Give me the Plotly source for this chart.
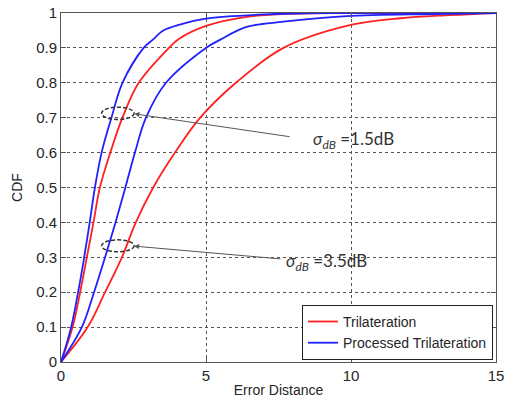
import plotly.graph_objects as go

# Trilateration, sigma = 1.5 dB
tri15_x = [0, 0.40, 0.66, 0.89, 1.12, 1.34, 1.70, 2.12, 2.68, 3.72, 4.05, 5.0, 6.4, 8.0, 10.0, 15.0]
tri15_y = [0, 0.1, 0.2, 0.3, 0.4, 0.5, 0.6, 0.7, 0.8, 0.9, 0.925, 0.963, 0.989, 0.998, 1.0, 1.0]
# Processed trilateration, sigma = 1.5 dB
pro15_x = [0, 0.35, 0.59, 0.80, 0.99, 1.17, 1.40, 1.74, 2.12, 2.85, 3.16, 3.53, 4.1, 5.0, 7.0, 9.0, 15.0]
pro15_y = [0, 0.1, 0.2, 0.3, 0.4, 0.5, 0.6, 0.7, 0.8, 0.9, 0.923, 0.95, 0.967, 0.984, 0.996, 1.0, 1.0]
# Trilateration, sigma = 3.5 dB
tri35_x = [0, 0.92, 1.52, 2.10, 2.58, 3.18, 3.93, 4.8, 6.03, 7.67, 9.85, 11.7, 13.4, 15.0]
tri35_y = [0, 0.1, 0.2, 0.3, 0.4, 0.5, 0.6, 0.7, 0.8, 0.9, 0.963, 0.985, 0.994, 1.0]
# Processed trilateration, sigma = 3.5 dB
pro35_x = [0, 0.72, 1.14, 1.52, 1.88, 2.22, 2.55, 2.93, 3.62, 5.0, 5.48, 6.4, 7.67, 9.85, 12.8, 15.0]
pro35_y = [0, 0.1, 0.2, 0.3, 0.4, 0.5, 0.6, 0.7, 0.8, 0.9, 0.923, 0.96, 0.975, 0.991, 0.997, 1.0]

x_ticks = [0, 5, 10, 15]
y_ticks = [0, 0.1, 0.2, 0.3, 0.4, 0.5, 0.6, 0.7, 0.8, 0.9, 1]
y_tick_labels = ["0", "0.1", "0.2", "0.3", "0.4", "0.5", "0.6", "0.7", "0.8", "0.9", "1"]

RED = "#ff2020"
BLUE = "#2020ff"
FONT = "Liberation Sans, Arial, sans-serif"

def line(color):
    return dict(color=color, width=1.8, shape="spline", smoothing=1.0)

fig = go.Figure()
fig.add_trace(go.Scatter(x=tri15_x, y=tri15_y, mode="lines", name="Trilateration", line=line(RED)))
fig.add_trace(go.Scatter(x=pro15_x, y=pro15_y, mode="lines", name="Processed Trilateration", line=line(BLUE)))
fig.add_trace(go.Scatter(x=tri35_x, y=tri35_y, mode="lines", name="Trilateration", showlegend=False, line=line(RED)))
fig.add_trace(go.Scatter(x=pro35_x, y=pro35_y, mode="lines", name="Processed Trilateration", showlegend=False, line=line(BLUE)))

# dashed ellipses
for (y0, y1) in [(0.695, 0.730), (0.316, 0.350)]:
    fig.add_shape(type="circle", xref="x", yref="y", x0=1.40, x1=2.52, y0=y0, y1=y1,
                  line=dict(color="#333333", width=1.5, dash="4px,2px"))

# arrows
for (hx, hy, tx, ty) in [(2.53, 0.711, 7.93, 0.645), (2.52, 0.332, 7.62, 0.295)]:
    fig.add_annotation(x=hx, y=hy, ax=tx, ay=ty, xref="x", yref="y", axref="x", ayref="y",
                       text="", showarrow=True, arrowhead=2, arrowsize=1, arrowwidth=1,
                       arrowcolor="#555555")

# sigma labels
for (lx, ly, lab) in [(8.62, 0.636, "1.5dB"), (7.69, 0.287, "3.5dB")]:
    fig.add_annotation(x=lx, y=ly, xref="x", yref="y", xanchor="left", yanchor="middle",
                       text="<i>σ</i><sub><i>dB</i></sub> =" + lab, showarrow=False,
                       font=dict(family="Lato, sans-serif", size=17, color="#333333"))

axis_common = dict(showline=True, linecolor="#555555", linewidth=1, mirror="ticks",
                   ticks="inside", ticklen=5, tickcolor="#555555",
                   showgrid=True, gridcolor="#555555", gridwidth=1, griddash="dot",
                   zeroline=False, automargin=False,
                   tickfont=dict(family=FONT, size=15, color="#262626"))

fig.update_xaxes(range=[0, 15], tickvals=x_ticks,
                 title=dict(text="Error Distance", font=dict(family=FONT, size=14, color="#262626"), standoff=2),
                 **axis_common)
fig.update_yaxes(range=[0, 1], tickvals=y_ticks, ticktext=y_tick_labels,
                 title=dict(text="CDF", font=dict(family=FONT, size=14, color="#262626"), standoff=10),
                 **axis_common)

fig.update_layout(
    width=512, height=400,
    margin=dict(l=61, r=16, t=13, b=38),
    plot_bgcolor="white", paper_bgcolor="white",
    legend=dict(x=0.993, y=0.006, xanchor="right", yanchor="bottom",
                bgcolor="white", bordercolor="#222222", borderwidth=1,
                font=dict(family=FONT, size=14, color="#262626"),
                tracegroupgap=0, itemwidth=30),
    showlegend=True,
)

fig.write_html("out.html", post_script="document.body.style.margin='0';",
               config={"displayModeBar": False})
